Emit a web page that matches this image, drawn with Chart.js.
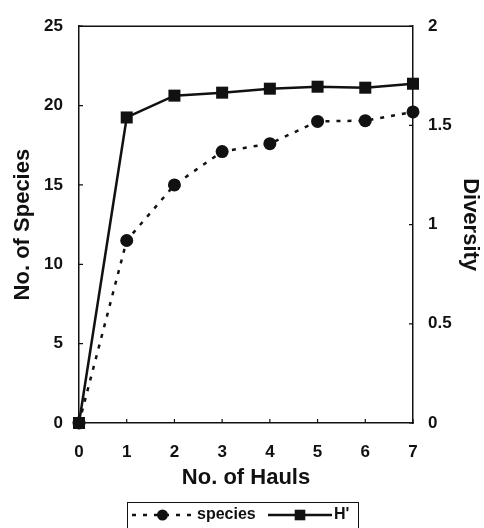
<!DOCTYPE html>
<html>
<head>
<meta charset="utf-8">
<script src="https://cdn.jsdelivr.net/npm/chart.js@4"></script>
<style>
  html, body { margin: 0; padding: 0; background: #fff; }
  #wrap { width: 484px; height: 528px; }
</style>
</head>
<body>
<div id="wrap"><canvas id="chart" width="484" height="528"></canvas></div>
<script>
// values
const hauls = [0, 1, 2, 3, 4, 5, 6, 7];
const species = [0, 11.5, 15, 17.1, 17.6, 19, 19.05, 19.6];
const diversity = [0, 1.54, 1.65, 1.665, 1.685, 1.695, 1.69, 1.71];

const speciesTicks = [0, 5, 10, 15, 20, 25];
const diversityTicks = [0, 0.5, 1, 1.5, 2];

const INK = '#111';
const FONT = 'Arial, "Liberation Sans", sans-serif';

const toPoints = vals => hauls.map((h, i) => ({ x: h, y: vals[i] }));

// frame top/right + inward tick marks
const framePlugin = {
  id: 'frame',
  afterDraw(chart) {
    const { ctx, chartArea: a, scales } = chart;
    ctx.save();
    ctx.strokeStyle = INK;
    ctx.lineWidth = 1.5;
    ctx.beginPath();
    ctx.moveTo(a.left, a.top);
    ctx.lineTo(a.right, a.top);
    ctx.stroke();

    ctx.lineWidth = 1.2;
    ctx.beginPath();
    hauls.forEach(h => {
      const x = scales.x.getPixelForValue(h);
      ctx.moveTo(x, a.bottom);
      ctx.lineTo(x, a.bottom - 4);
    });
    speciesTicks.forEach(v => {
      const y = scales.y.getPixelForValue(v);
      ctx.moveTo(a.left, y);
      ctx.lineTo(a.left + 4, y);
    });
    diversityTicks.forEach(v => {
      const y = scales.y2.getPixelForValue(v);
      ctx.moveTo(a.right, y);
      ctx.lineTo(a.right - 4, y);
    });
    ctx.stroke();
    ctx.restore();
  }
};

// boxed legend with line + marker samples
const legendPlugin = {
  id: 'boxLegend',
  afterDraw(chart) {
    const { ctx } = chart;
    const boxL = 127, boxT = 502, boxR = 358;
    const cy = 515;
    ctx.save();
    ctx.strokeStyle = INK;
    ctx.lineWidth = 1;
    ctx.strokeRect(boxL + 0.5, boxT + 0.5, boxR - boxL, 40);

    const items = [
      { ds: chart.data.datasets[0], x0: 132, x1: 193, tx: 197 },
      { ds: chart.data.datasets[1], x0: 268, x1: 332, tx: 334 }
    ];
    items.forEach(it => {
      const ds = it.ds;
      ctx.strokeStyle = ds.borderColor;
      ctx.lineWidth = ds.borderWidth;
      ctx.setLineDash(ds.borderDash || []);
      ctx.beginPath();
      ctx.moveTo(it.x0, cy);
      ctx.lineTo(it.x1, cy);
      ctx.stroke();
      ctx.setLineDash([]);
      ctx.fillStyle = ds.pointBackgroundColor;
      ctx.strokeStyle = ds.pointBackgroundColor;
      Chart.helpers.drawPoint(ctx, {
        pointStyle: ds.pointStyle,
        radius: ds.pointRadius - 1,
        rotation: 0,
        borderWidth: 0
      }, (it.x0 + it.x1) / 2, cy);
      ctx.fillStyle = INK;
      ctx.font = 'bold 16px ' + FONT;
      ctx.textBaseline = 'middle';
      ctx.textAlign = 'left';
      ctx.fillText(ds.label, it.tx, cy);
    });
    ctx.restore();
  }
};

new Chart(document.getElementById('chart'), {
  type: 'line',
  data: {
    datasets: [
      {
        label: 'species',
        data: toPoints(species),
        yAxisID: 'y',
        borderColor: INK,
        borderWidth: 2.5,
        borderDash: [4, 7],
        pointStyle: 'circle',
        pointRadius: 6.5,
        pointBackgroundColor: INK,
        pointBorderWidth: 0,
        clip: false,
        order: 1
      },
      {
        label: "H'",
        data: toPoints(diversity),
        yAxisID: 'y2',
        borderColor: INK,
        borderWidth: 2.5,
        pointStyle: 'rect',
        pointRadius: 8.5,
        pointBackgroundColor: INK,
        pointBorderWidth: 0,
        clip: false,
        order: 0
      }
    ]
  },
  options: {
    responsive: false,
    animation: false,
    devicePixelRatio: 1,
    layout: { padding: { left: 0, right: 0, top: 20, bottom: 35 } },
    plugins: {
      legend: { display: false },
      tooltip: { enabled: false }
    },
    scales: {
      x: {
        type: 'linear',
        min: 0,
        max: 7,
        afterFit: s => { s.height = 70; },
        ticks: {
          stepSize: 1,
          padding: 19,
          color: INK,
          font: { family: FONT, size: 17, weight: 'bold' }
        },
        grid: { display: false, drawTicks: false },
        border: { display: true, color: INK, width: 1.5 },
        title: {
          display: true,
          text: 'No. of Hauls',
          color: INK,
          padding: { bottom: 2 },
          font: { family: FONT, size: 22, weight: 'bold' }
        }
      },
      y: {
        position: 'left',
        min: 0,
        max: 25,
        afterFit: s => { s.width = 79; },
        ticks: {
          stepSize: 5,
          padding: 16,
          color: INK,
          font: { family: FONT, size: 17, weight: 'bold' }
        },
        grid: { display: false, drawTicks: false },
        border: { display: true, color: INK, width: 1.5 },
        title: {
          display: true,
          text: 'No. of Species',
          color: INK,
          padding: { top: 10 },
          font: { family: FONT, size: 22, weight: 'bold' }
        }
      },
      y2: {
        position: 'right',
        min: 0,
        max: 2,
        afterFit: s => { s.width = 71; },
        ticks: {
          stepSize: 0.5,
          padding: 15,
          color: INK,
          font: { family: FONT, size: 17, weight: 'bold' },
          callback: v => String(v)
        },
        grid: { display: false, drawTicks: false },
        border: { display: true, color: INK, width: 1.5 },
        title: {
          display: true,
          text: 'Diversity',
          color: INK,
          padding: { top: 1 },
          font: { family: FONT, size: 22, weight: 'bold' }
        }
      }
    }
  },
  plugins: [framePlugin, legendPlugin]
});
</script>
</body>
</html>
